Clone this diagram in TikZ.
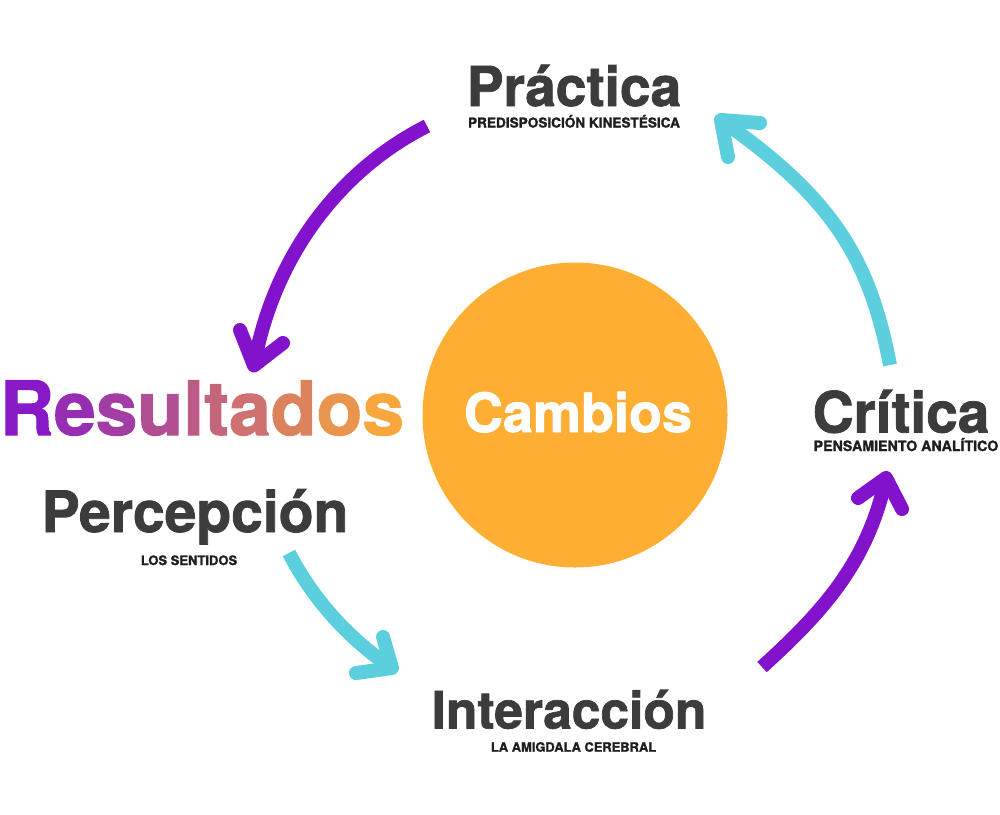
\documentclass[tikz,border=0pt]{standalone}
\usepackage{fontspec}
\setmainfont{TeX Gyre Heros}[BoldFeatures={FakeBold=1.4}]
\usetikzlibrary{calc}
\definecolor{purp}{HTML}{8212CC}
\definecolor{cyanc}{HTML}{5BCFDE}
\definecolor{orng}{HTML}{FFAE34}
\definecolor{darkt}{HTML}{3C3C3C}
\definecolor{smallt}{HTML}{1E1E1E}
\definecolor{gradA}{HTML}{7E0FD1}
\begin{document}
\begin{tikzpicture}[x=1pt,y=-1pt,
  shaft/.style={line width=14pt, line cap=butt},
  headline/.style={line width=14pt, line cap=round, line join=round},
  title/.style={anchor=base, inner sep=0pt, text=darkt, font=\bfseries\fontsize{#1}{#1}\selectfont},
  subtitle/.style={anchor=base, inner sep=0pt, text=smallt, font=\bfseries\fontsize{#1}{#1}\selectfont},
]
\useasboundingbox (0,0) rectangle (1000,814);

% central circle
\node[circle, fill=orng, minimum size=305pt, inner sep=0pt] (circ) at (575,415) {};
\node[title=54, text=white] (cambios) at (578,432) {Cambios};

% labels
\node[title=55] (practica) at (574,106) {Práctica};
\node[subtitle=13.6] (practicasub) at (574,127.5) {PREDISPOSICIÓN KINESTÉSICA};

\node[title=75] (resultados) at (202,435) {%
\textcolor{orng!7!gradA}{R}\textcolor{orng!19!gradA}{e}\textcolor{orng!29!gradA}{s}%
\textcolor{orng!40!gradA}{u}\textcolor{orng!48!gradA}{l}\textcolor{orng!54!gradA}{t}%
\textcolor{orng!62!gradA}{a}\textcolor{orng!73!gradA}{d}\textcolor{orng!84!gradA}{o}%
\textcolor{orng!95!gradA}{s}};

\node[title=57] (percepcion) at (195,532) {Percepción};
\node[subtitle=13] (percepcionsub) at (189,565) {LOS SENTIDOS};

\node[title=56.8] (critica) at (901,432.5) {Crítica};
\node[subtitle=14.2] (criticasub) at (906,451) {PENSAMIENTO ANALÍTICO};

\node[title=51.5] (interaccion) at (569,728.5) {Interacción};
\node[subtitle=12.9] (interaccionsub) at (573.5,751.7) {LA AMIGDALA CEREBRAL};

% arrow 1 : purple, top-left
\coordinate (a1s) at (427,126);
\coordinate (a1c1) at (334,173);
\coordinate (a1c2) at (272,263);
\coordinate (a1t) at (254,365.5);
\coordinate (a1l) at (240,330);
\coordinate (a1r) at (283,343);
\draw[shaft, purp] (a1s) .. controls (a1c1) and (a1c2) .. (a1t);
\draw[headline, purp] (a1l) -- (a1t) -- (a1r);

% arrow 2 : cyan, top-right
\coordinate (a2s) at (890,365);
\coordinate (a2c1) at (870,262);
\coordinate (a2c2) at (836,200);
\coordinate (a2t) at (721,120);
\coordinate (a2l) at (760,123);
\coordinate (a2r) at (728,157);
\draw[shaft, cyanc] (a2s) .. controls (a2c1) and (a2c2) .. (a2t);
\draw[headline, cyanc] (a2l) -- (a2t) -- (a2r);

% arrow 3 : cyan, bottom-left
\coordinate (a3s) at (289,553);
\coordinate (a3c1) at (313,599.4);
\coordinate (a3c2) at (348.6,638.7);
\coordinate (a3t) at (392,668);
\coordinate (a3l) at (383,637);
\coordinate (a3r) at (356,673);
\draw[shaft, cyanc] (a3s) .. controls (a3c1) and (a3c2) .. (a3t);
\draw[headline, cyanc] (a3l) -- (a3t) -- (a3r);

% arrow 4 : purple, bottom-right
\coordinate (a4s) at (762,667);
\coordinate (a4c1) at (825,610);
\coordinate (a4c2) at (868,561);
\coordinate (a4t) at (886,478);
\coordinate (a4l) at (858,498);
\coordinate (a4r) at (902,509);
\draw[shaft, purp] (a4s) .. controls (a4c1) and (a4c2) .. (a4t);
\draw[headline, purp] (a4l) -- (a4t) -- (a4r);
\end{tikzpicture}
\end{document}
